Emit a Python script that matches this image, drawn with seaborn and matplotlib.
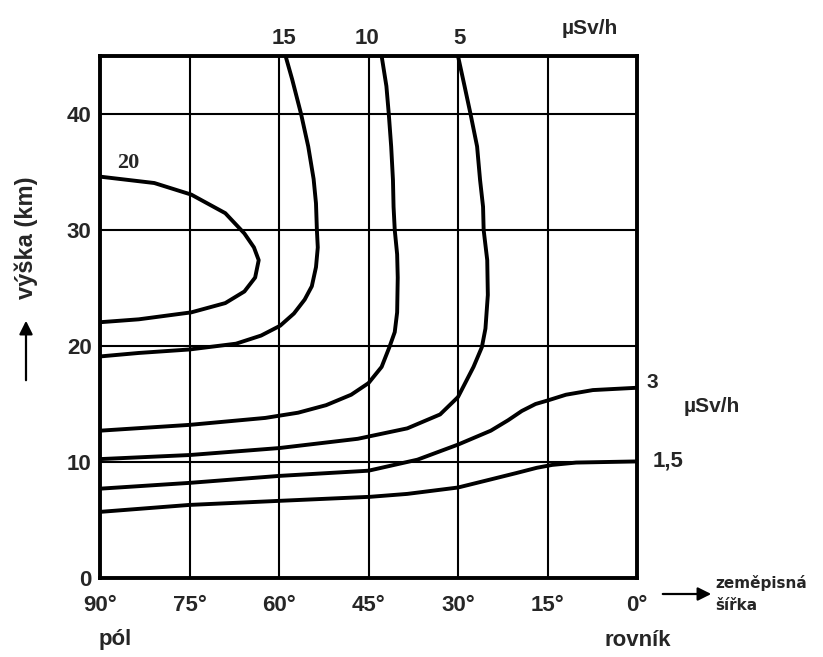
import matplotlib
matplotlib.use('Agg')
import matplotlib.pyplot as plt
import seaborn as sns
import pandas as pd

# axes: latitude (deg, pole on the left) and altitude (km)
lat_ticks = [90, 75, 60, 45, 30, 15, 0]
lat_labels = ['90°', '75°', '60°', '45°', '30°', '15°', '0°']
alt_ticks = [0, 10, 20, 30, 40]

# isolines of dose rate (µSv/h)
lat_20 = [90, 80.9, 74.7, 69.0, 65.8, 64.2, 63.4, 64.0, 65.8, 69.0, 74.7, 83.5, 90]
alt_20 = [34.6, 34.05, 33.05, 31.45, 29.7, 28.5, 27.4, 25.9, 24.7, 23.7, 22.9, 22.3, 22.05]

lat_15 = [90, 83.5, 75, 67.2, 63.0, 59.8, 57.5, 55.7, 54.5, 53.8, 53.5, 53.65,
          53.8, 54.2, 55.1, 56.3, 57.8, 58.9]
alt_15 = [19.1, 19.4, 19.7, 20.2, 20.9, 21.75, 22.8, 24.0, 25.15, 26.8, 28.5, 30.0,
          32.3, 34.4, 37.2, 40.0, 43.0, 45.0]

lat_10 = [90, 75, 62.3, 56.8, 52.1, 47.9, 45, 42.8, 41.5, 40.6, 40.2, 40.1, 40.2,
          40.6, 40.8, 40.9, 41.2, 41.6, 42.0, 42.8]
alt_10 = [12.7, 13.2, 13.8, 14.25, 14.9, 15.8, 16.8, 18.2, 19.9, 21.2, 22.9, 25.9, 27.9,
          30.0, 32.0, 34.3, 37.2, 40.0, 42.4, 45.0]

lat_5 = [90, 75, 60, 46.8, 38.5, 33.0, 30, 27.4, 26.0, 25.4, 25.0, 25.1, 25.7,
         25.8, 26.3, 26.8, 27.9, 28.9, 30]
alt_5 = [10.25, 10.6, 11.2, 12.0, 12.9, 14.1, 15.6, 18.2, 19.9, 21.5, 24.4, 27.4, 30.0,
         32.0, 34.3, 37.2, 40.0, 42.4, 45.0]

lat_3 = [90, 75, 60, 45, 36.8, 30, 24.5, 21.6, 19.3, 17.0, 15, 11.9, 7.4, 0]
alt_3 = [7.7, 8.2, 8.8, 9.25, 10.2, 11.5, 12.7, 13.6, 14.4, 15.0, 15.3, 15.8, 16.2, 16.4]

lat_1_5 = [90, 75, 60, 44.7, 38.5, 30, 24.5, 20.2, 16.8, 14.2, 10.2, 0]
alt_1_5 = [5.7, 6.3, 6.65, 7.0, 7.25, 7.8, 8.5, 9.05, 9.5, 9.75, 9.95, 10.05]

curves = {'20': (lat_20, alt_20), '15': (lat_15, alt_15), '10': (lat_10, alt_10),
          '5': (lat_5, alt_5), '3': (lat_3, alt_3), '1,5': (lat_1_5, alt_1_5)}
rows = []
for name, (la, al) in curves.items():
    for a, b in zip(la, al):
        rows.append({'level': name, 'lat': a, 'alt': b})
df = pd.DataFrame(rows)

sns.set_theme(style='white')
plt.rcParams['font.family'] = ['Liberation Sans', 'DejaVu Sans']
plt.rcParams['font.weight'] = 'bold'

W, H = 823, 657
fig = plt.figure(figsize=(W / 100, H / 100), dpi=100)
ax = fig.add_axes([100 / W, 1 - 578 / H, 537 / W, 522 / H])

for x in lat_ticks[1:-1]:
    ax.axvline(x, color='black', lw=1.5, zorder=1)
for y in alt_ticks[1:]:
    ax.axhline(y, color='black', lw=1.5, zorder=1)

sns.lineplot(data=df, x='lat', y='alt', units='level', estimator=None, sort=False,
             color='black', lw=2.8, ax=ax, zorder=3)
for ln in ax.get_lines():
    ln.set_solid_joinstyle('round')

ax.set_xlim(90, 0)
ax.set_ylim(0, 45)
ax.set_xticks(lat_ticks)
ax.set_xticklabels(lat_labels)
ax.set_yticks(alt_ticks)
ax.set_xlabel('')
ax.set_ylabel('')
ax.tick_params(axis='x', length=0, pad=12, labelsize=16)
ax.tick_params(axis='y', length=0, pad=6, labelsize=16)
for s in ax.spines.values():
    s.set_color('black')
    s.set_linewidth(2.8)

def ftxt(px, py, s, **kw):
    fig.text(px / W, 1 - py / H, s, **kw)

ftxt(284, 38, '15', ha='center', va='center', fontsize=16, fontweight='bold')
ftxt(367, 38, '10', ha='center', va='center', fontsize=16, fontweight='bold')
ftxt(460, 38, '5', ha='center', va='center', fontsize=16, fontweight='bold')
ftxt(590, 29, 'µSv/h', ha='center', va='center', fontsize=15, fontweight='bold')
ftxt(128, 163, '20', ha='center', va='center', fontsize=16, fontweight='bold',
     family=['Liberation Serif', 'DejaVu Serif'])
ftxt(652, 383, '3', ha='center', va='center', fontsize=15, fontweight='bold')
ftxt(712, 406, 'µSv/h', ha='center', va='center', fontsize=15, fontweight='bold')
ftxt(668, 461, '1,5', ha='center', va='center', fontsize=16, fontweight='bold')

ftxt(115, 640, 'pól', ha='center', va='center', fontsize=16, fontweight='bold')
ftxt(638, 640, 'rovník', ha='center', va='center', fontsize=16, fontweight='bold')
ftxt(715, 583, 'zeměpisná', ha='left', va='center', fontsize=11, fontweight='bold',
     family=['DejaVu Sans'])
ftxt(715, 605, 'šířka', ha='left', va='center', fontsize=11, fontweight='bold',
     family=['DejaVu Sans'])
ax.annotate('', xy=(714, H - 594), xytext=(660, H - 594), xycoords='figure pixels',
            arrowprops=dict(arrowstyle='-|>', color='black', lw=1.6, mutation_scale=20))

ftxt(26, 238, 'výška (km)', ha='center', va='center', rotation=90, fontsize=17,
     fontweight='bold')
ax.annotate('', xy=(26, H - 318), xytext=(26, H - 383), xycoords='figure pixels',
            arrowprops=dict(arrowstyle='-|>', color='black', lw=1.6, mutation_scale=20))

fig.savefig('out.png', dpi=100, facecolor='white')
